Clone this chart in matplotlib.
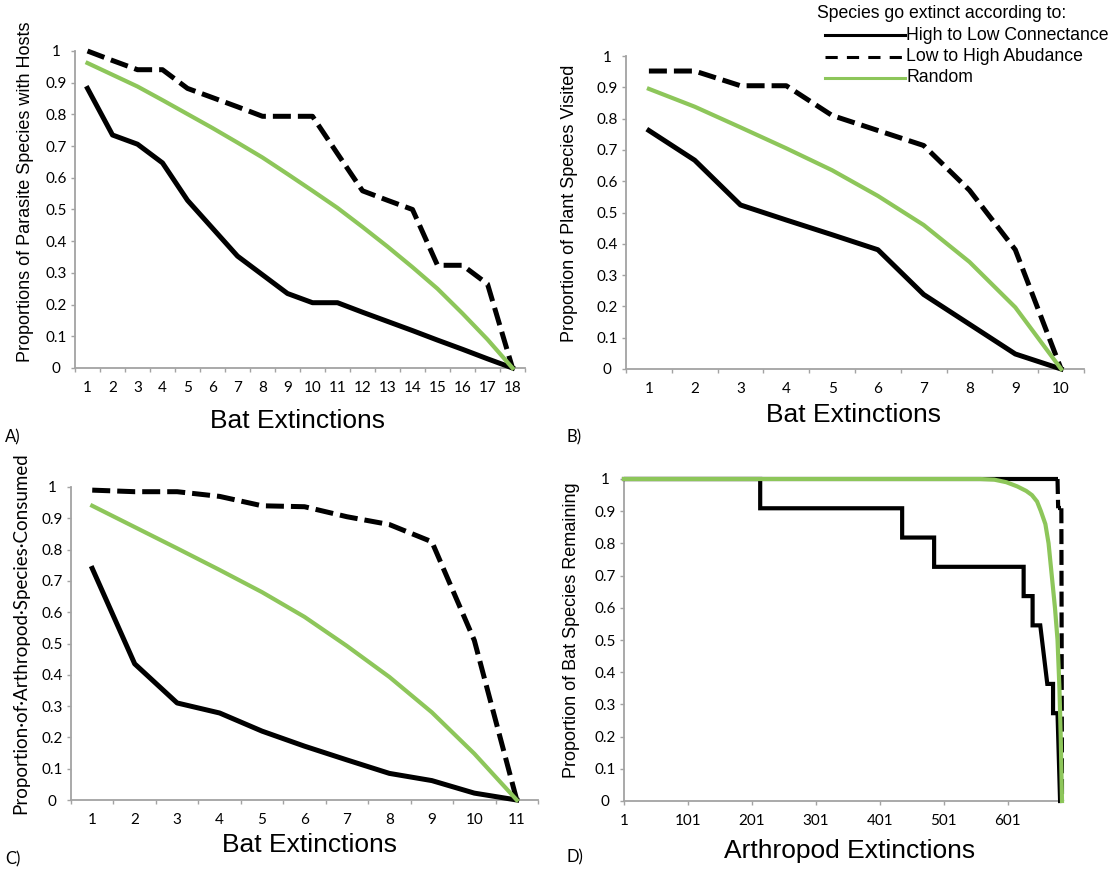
import numpy as np
import matplotlib
matplotlib.use('Agg')
import matplotlib.pyplot as plt
from matplotlib.lines import Line2D
from matplotlib.collections import LineCollection

W, H = 1114, 869

# --- A) parasites vs bat extinctions
A_cats = list(range(1, 19))
A_conn = [0.882, 0.735, 0.706, 0.647, 0.529, 0.441, 0.353, 0.294, 0.235, 0.206,
          0.206, 0.176, 0.147, 0.118, 0.088, 0.059, 0.029, 0.0]
A_abund = [1.0, 0.97, 0.941, 0.941, 0.882, 0.853, 0.824, 0.794, 0.794, 0.794,
           0.676, 0.559, 0.529, 0.5, 0.324, 0.324, 0.265, 0.0]
A_rand = [0.962, 0.925, 0.888, 0.845, 0.801, 0.757, 0.711, 0.664, 0.612, 0.559,
          0.505, 0.445, 0.383, 0.318, 0.25, 0.172, 0.09, 0.0]

# --- B) plants vs bat extinctions
B_cats = list(range(1, 11))
B_conn = [0.762, 0.667, 0.524, 0.476, 0.429, 0.381, 0.238, 0.143, 0.048, 0.0]
B_abund = [0.952, 0.952, 0.905, 0.905, 0.810, 0.762, 0.714, 0.571, 0.381, 0.0]
B_rand = [0.895, 0.838, 0.772, 0.705, 0.635, 0.553, 0.46, 0.342, 0.197, 0.0]

# --- C) arthropods vs bat extinctions
C_cats = list(range(1, 12))
C_conn = [0.74, 0.435, 0.31, 0.278, 0.22, 0.172, 0.128, 0.085, 0.062, 0.022, 0.0]
C_abund = [0.99, 0.985, 0.985, 0.97, 0.94, 0.937, 0.905, 0.88, 0.825, 0.51, 0.0]
C_rand = [0.94, 0.872, 0.804, 0.735, 0.664, 0.585, 0.492, 0.393, 0.28, 0.148, 0.0]

# --- D) bats vs arthropod extinctions (686 arthropods, 11 bats)
D_max = 686
D_ticks = [1, 101, 201, 301, 401, 501, 601]
D_conn_x = [1, 214, 214, 436, 436, 486, 486, 626, 626, 640, 640, 652, 663, 672, 672, 679, 683]
D_conn_y = [1, 1, 10/11, 10/11, 9/11, 9/11, 8/11, 8/11, 7/11, 7/11, 6/11, 6/11,
            4/11, 4/11, 3/11, 3/11, 0]
# abundance run: (value, number of arthropod steps it lasts)
D_abund_runs = [(1.0, 679), (10/11, 6), (0.0, 1)]
D_rand_x = [1, 558, 580, 599, 616, 630, 639, 647, 653, 660, 665, 670, 675, 679, 682, 684, 686]
D_rand_y = [1, 1, 0.998, 0.99, 0.977, 0.963, 0.95, 0.93, 0.9, 0.86, 0.8, 0.7, 0.6,
            0.5, 0.35, 0.2, 0]

y_ticks = [i / 10 for i in range(11)]
y_labels = ['0'] + [f'0.{i}' for i in range(1, 10)] + ['1']

LAB = 'Liberation Sans'
TICK = 'Lato'
GREEN = '#8DC65A'
GRAY = '#a3a3a3'
PX = 72 / 100  # points per pixel

fig = plt.figure(figsize=(W / 100, H / 100), dpi=100)
fig.patch.set_facecolor('white')


def add_panel(l, t, r, b):
    return fig.add_axes([l / W, 1 - b / H, (r - l) / W, (b - t) / H])


def style(ax):
    for s in ['top', 'right']:
        ax.spines[s].set_visible(False)
    for s in ['left', 'bottom']:
        ax.spines[s].set_color(GRAY)
        ax.spines[s].set_linewidth(1.3)
    ax.set_ylim(0, 1)
    ax.set_yticks(y_ticks)
    ax.set_yticklabels(y_labels, fontfamily=TICK, fontsize=11)
    for t in ax.get_yticklabels():
        t.set_horizontalalignment('center')
    ax.tick_params(axis='y', direction='out', length=4 * PX, width=1, color=GRAY,
                   pad=15 * PX)
    ax.tick_params(axis='x', which='major', direction='out', length=4 * PX, width=1,
                   color=GRAY)


def category_axis(ax, cats):
    n = len(cats)
    ax.set_xlim(0.5, n + 0.5)
    ax.set_xticks(np.arange(0.5, n + 1, 1))
    ax.set_xticklabels([])
    ax.set_xticks(cats, minor=True)
    ax.set_xticklabels([str(c) for c in cats], minor=True, fontfamily=TICK, fontsize=11)
    ax.tick_params(axis='x', which='minor', length=0, pad=13 * PX)


def three_lines(ax, x, conn, abund, rand, lw=3.6):
    ax.plot(x, conn, color='black', lw=lw, solid_joinstyle='round', clip_on=False, zorder=3)
    ax.plot(x, abund, color='black', lw=lw, dashes=(3.6, 1.4), clip_on=False, zorder=3)
    ax.plot(x, rand, color=GREEN, lw=3.0, solid_joinstyle='round', clip_on=False, zorder=4)


# A
axA = add_panel(75, 51, 525, 368)
style(axA)
category_axis(axA, A_cats)
three_lines(axA, A_cats, A_conn, A_abund, A_rand)

# B
axB = add_panel(626, 56, 1084, 369)
style(axB)
category_axis(axB, B_cats)
three_lines(axB, B_cats, B_conn, B_abund, B_rand)

# C
axC = add_panel(71, 487, 538, 800)
style(axC)
category_axis(axC, C_cats)
three_lines(axC, C_cats, C_conn, C_abund, C_rand)

# D
axD = add_panel(624, 479, 1062, 801)
style(axD)
axD.set_xlim(1, D_max)
axD.set_xticks(D_ticks)
axD.set_xticklabels([str(t) for t in D_ticks], fontfamily=TICK, fontsize=11)
axD.tick_params(axis='x', pad=9 * PX)
axD.plot(D_conn_x, D_conn_y, color='black', lw=3.0, solid_joinstyle='miter', clip_on=False, zorder=3)

# Excel restarts the dash on every category step, so flat stretches look solid
abund_y = np.repeat([v for v, n in D_abund_runs], [n for v, n in D_abund_runs])
abund_x = np.arange(1, len(abund_y) + 1)
pts = np.column_stack([abund_x, abund_y])
segs = np.stack([pts[:-1], pts[1:]], axis=1)
lc = LineCollection(segs, colors='black', linewidths=3.0, linestyles=(0, (3.6, 1.4)),
                    clip_on=False, zorder=3)
lc.set_capstyle('butt')
axD.add_collection(lc)
axD.plot(D_rand_x, D_rand_y, color=GREEN, lw=3.0, clip_on=False, zorder=4)


def ftext(x, y, s, **kw):
    fig.text(x / W, 1 - y / H, s, **kw)


# axis titles
ftext(297, 421, 'Bat Extinctions', ha='center', va='center', fontfamily=LAB, fontsize=19)
ftext(853, 415, 'Bat Extinctions', ha='center', va='center', fontfamily=LAB, fontsize=19)
ftext(309, 845, 'Bat Extinctions', ha='center', va='center', fontfamily=LAB, fontsize=19)
ftext(850, 851, 'Arthropod Extinctions', ha='center', va='center', fontfamily=LAB, fontsize=19)

ftext(26, 192, 'Proportions of Parasite Species with Hosts', rotation=90,
      ha='center', va='center', fontfamily=LAB, fontsize=13)
ftext(570, 203, 'Proportion of Plant Species Visited', rotation=90,
      ha='center', va='center', fontfamily=LAB, fontsize=13)
ftext(21, 633, 'Proportion\u00b7of\u00b7Arthropod\u00b7Species\u00b7Consumed', rotation=90,
      ha='center', va='center', fontfamily=TICK, fontsize=13.5)
ftext(571, 630, 'Proportion of Bat Species Remaining', rotation=90,
      ha='center', va='center', fontfamily=LAB, fontsize=13)

# panel letters
for x, y, s in [(5, 437, 'A)'), (566, 437, 'B)'), (5, 859, 'C)'), (566, 857, 'D)')]:
    ftext(x, y, s, ha='left', va='center', fontfamily=TICK, fontsize=12)

# legend
ftext(817, 13, 'Species go extinct according to:', ha='left', va='center',
      fontfamily=LAB, fontsize=12.7)
entries = [('High to Low Connectance', dict(color='black')),
           ('Low to High Abudance', dict(color='black', dashes=(4, 3))),
           ('Random', dict(color=GREEN))]
for i, (lab, st) in enumerate(entries):
    yy = 35 + i * 21.5
    fig.add_artist(Line2D([825 / W, 905 / W], [1 - yy / H, 1 - yy / H], lw=2.2,
                          transform=fig.transFigure, **st))
    ftext(906, yy, lab, ha='left', va='center', fontfamily=LAB, fontsize=12.7)

fig.savefig('out.png', dpi=100, facecolor='white')
